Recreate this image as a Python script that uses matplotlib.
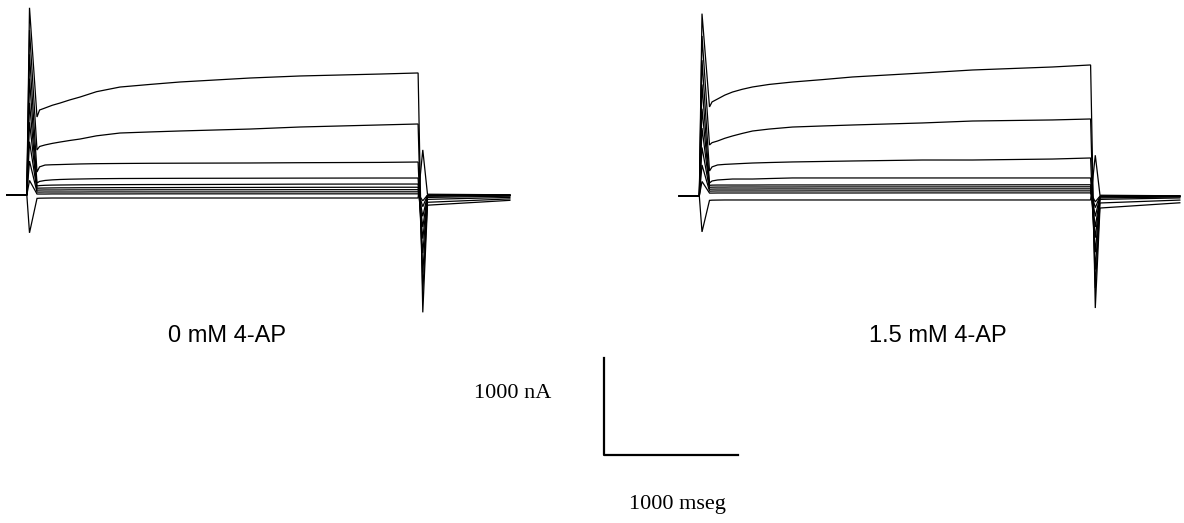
import matplotlib.pyplot as plt

W, H = 1184, 523
MS_PER_PX = 1000 / 134   # horizontal scale bar: 1000 ms
NA_PER_PX = 1000 / 97    # vertical scale bar: 1000 nA

# sample times (ms, relative to step onset)
t_pre = [-170, -20, 0]
t_step = [56, 75, 116, 170, 228, 300, 377, 500, 675, 900, 1123, 1645, 2018, 2615, 2900]
t_off = [2935, 2970]

# ---- 0 mM 4-AP ----
steps_0 = [
    [804, 876, 897, 925, 948, 980, 1010, 1065, 1113, 1140, 1165, 1206, 1227, 1247, 1258],
    [464, 500, 516, 532, 546, 562, 577, 610, 639, 650, 660, 680, 701, 722, 732],
    [237, 290, 309, 312, 314, 317, 320, 323, 325, 327, 328, 330, 333, 336, 340],
    [124, 140, 150, 156, 160, 163, 165, 168, 170, 171, 172, 173, 174, 175, 175],
    [93, 97, 100, 102, 103, 104, 105, 106, 107, 108, 108, 110, 112, 113, 113],
    [70, 71, 72, 73, 74, 74, 75, 75, 76, 76, 77, 78, 79, 80, 80],
    [50, 51, 52, 52, 52, 53, 53, 53, 53, 54, 54, 54, 55, 55, 55],
    [30, 30, 31, 31, 31, 31, 31, 32, 32, 32, 32, 32, 33, 33, 33],
    [10, 10, 10, 11, 11, 11, 11, 11, 11, 12, 12, 12, 12, 12, 12],
    [-35, -33, -32, -31, -31, -31, -31, -31, -31, -31, -31, -31, -31, -31, -31],
]
on_peak_0 = [1930, 1700, 1450, 1200, 950, 750, 550, 350, 150, -390]
off_peak_0 = [-1210, -1000, -800, -600, -450, -330, -220, -120, -60, 465]
tail_start_0 = [-105, -75, -45, -25, -12, -8, -5, -3, -1, 8]
tail_end_0 = [-55, -40, -25, -12, -6, -4, -2, -1, 0, 2]
t_end_0 = 3585

# ---- 1.5 mM 4-AP ----
steps_15 = [
    [918, 970, 1000, 1040, 1072, 1100, 1124, 1150, 1175, 1200, 1227, 1268, 1299, 1330, 1351],
    [526, 550, 567, 595, 619, 645, 670, 690, 711, 722, 732, 753, 773, 784, 794],
    [258, 300, 320, 326, 330, 335, 340, 345, 351, 356, 361, 371, 371, 381, 392],
    [134, 155, 165, 170, 175, 175, 175, 180, 186, 186, 186, 186, 186, 186, 186],
    [110, 112, 113, 113, 113, 113, 113, 114, 114, 114, 114, 115, 115, 116, 116],
    [90, 91, 92, 92, 93, 93, 93, 93, 93, 94, 94, 94, 94, 95, 95],
    [70, 71, 72, 72, 72, 72, 72, 73, 73, 73, 73, 73, 74, 74, 74],
    [50, 51, 52, 52, 52, 52, 52, 52, 52, 53, 53, 53, 53, 53, 53],
    [30, 30, 31, 31, 31, 31, 31, 31, 31, 31, 31, 32, 32, 32, 32],
    [-45, -43, -42, -41, -41, -41, -41, -41, -41, -41, -41, -41, -41, -41, -41],
]
on_peak_15 = [1880, 1650, 1400, 1150, 900, 700, 500, 320, 150, -370]
off_peak_15 = [-1155, -950, -760, -580, -430, -320, -210, -120, -60, 420]
tail_start_15 = [-124, -72, -35, -20, -10, -6, -4, -2, -1, 8]
tail_end_15 = [-70, -42, -20, -10, -5, -3, -2, -1, 0, 2]
t_end_15 = 3566

labels = ["0 mM 4-AP", "1.5 mM 4-AP"]


def px_axes(fig, x0, y0, x1, y1, ox, oy):
    # axes over a pixel box, origin (0 ms, 0 nA) at pixel (ox, oy)
    ax = fig.add_axes([x0 / W, 1 - y1 / H, (x1 - x0) / W, (y1 - y0) / H])
    ax.set_xlim((x0 - ox) * MS_PER_PX, (x1 - ox) * MS_PER_PX)
    ax.set_ylim((oy - y1) * NA_PER_PX, (oy - y0) * NA_PER_PX)
    ax.axis("off")
    return ax


def draw_traces(ax, steps, on_peak, off_peak, tail_start, tail_end, t_end):
    tt = t_pre + t_step + t_off + [t_end]
    for i in range(len(steps)):
        vals = [0, 0, on_peak[i]] + steps[i] + [off_peak[i], tail_start[i], tail_end[i]]
        ax.plot(tt, vals, color="black", lw=0.9, solid_joinstyle="miter")


fig = plt.figure(figsize=(W / 100, H / 100), dpi=100)

ax0 = px_axes(fig, 0, 0, 590, 330, 29.5, 195)
draw_traces(ax0, steps_0, on_peak_0, off_peak_0, tail_start_0, tail_end_0, t_end_0)

ax1 = px_axes(fig, 660, 0, 1184, 330, 702, 196)
draw_traces(ax1, steps_15, on_peak_15, off_peak_15, tail_start_15, tail_end_15, t_end_15)

fig.text(227 / W, 1 - 336 / H, labels[0], ha="center", va="center",
         fontsize=17, family="Liberation Sans")
fig.text(938 / W, 1 - 336 / H, labels[1], ha="center", va="center",
         fontsize=17, family="Liberation Sans")

# scale bar
axs = px_axes(fig, 560, 340, 800, 480, 604, 455)
axs.plot([0, 0, 1000], [1000, 0, 0], color="black", lw=1.6)
fig.text(513 / W, 1 - 393 / H, "1000 nA", ha="center", va="center",
         fontsize=16, family="Liberation Serif")
fig.text(677 / W, 1 - 505 / H, "1000 mseg", ha="center", va="center",
         fontsize=16, family="Liberation Serif")

fig.savefig("out.png", dpi=100)
